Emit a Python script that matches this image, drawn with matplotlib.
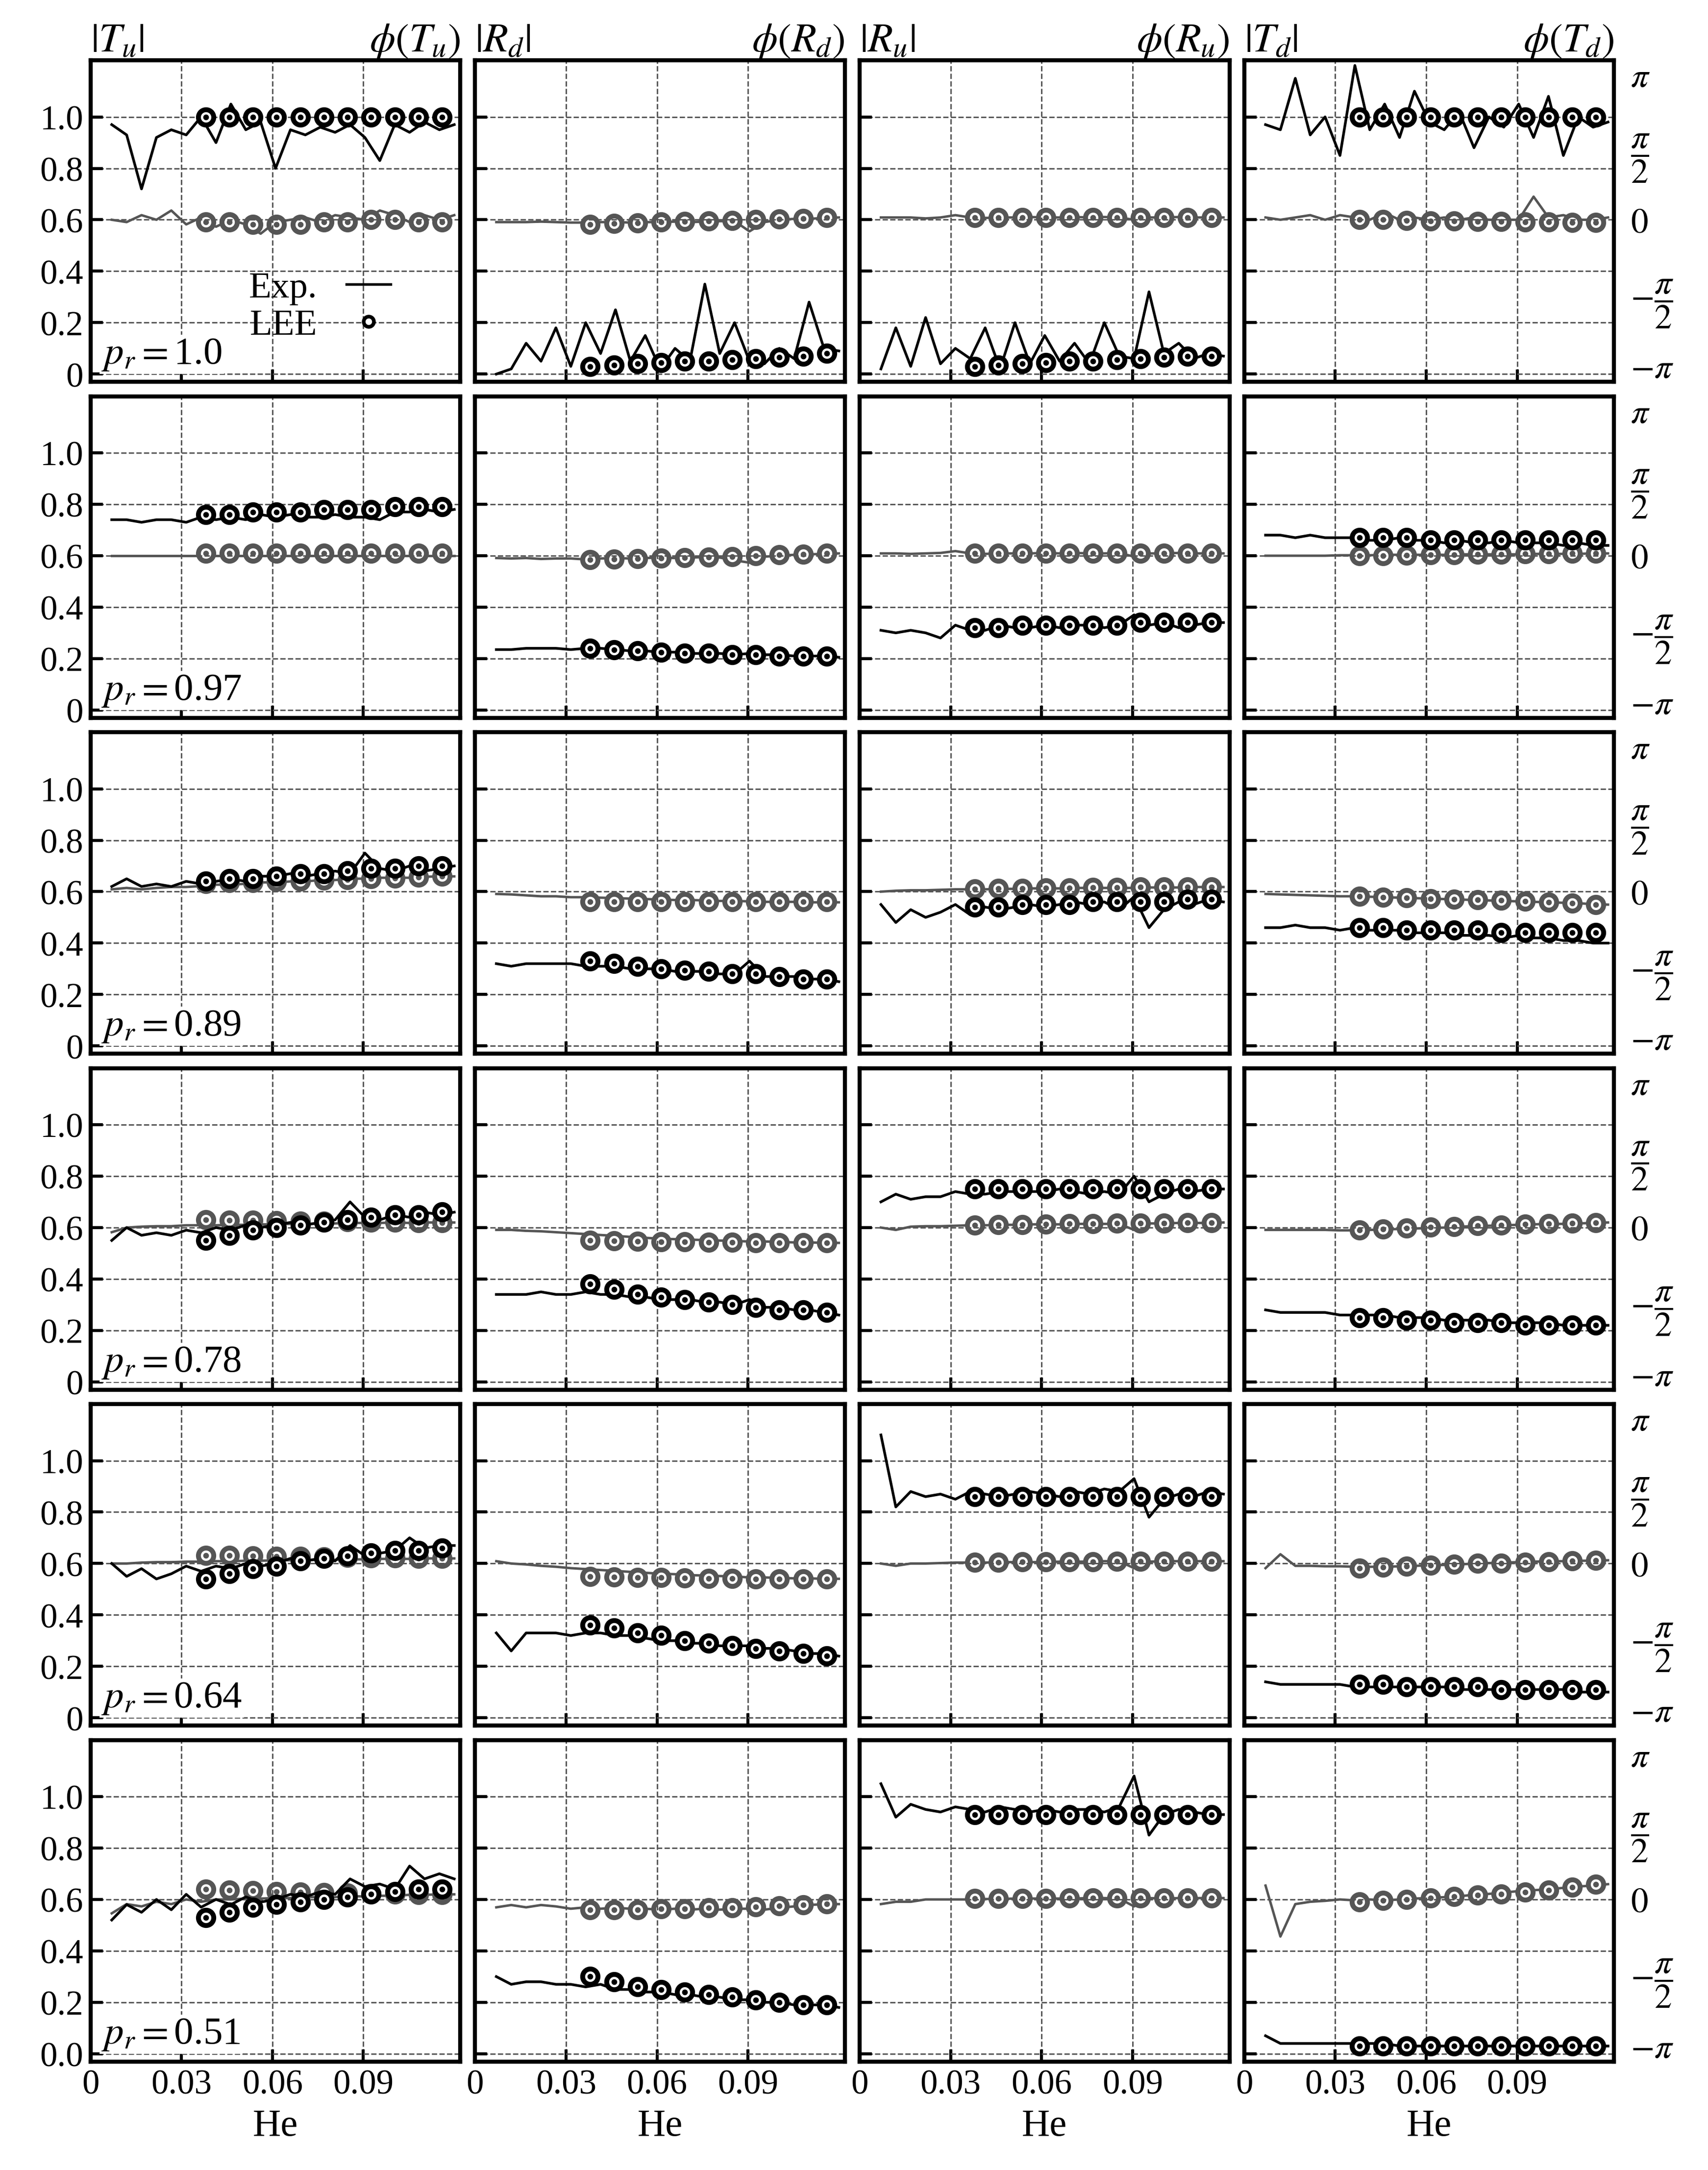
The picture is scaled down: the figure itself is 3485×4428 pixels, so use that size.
import numpy as np
import matplotlib.pyplot as plt

plt.rcParams['font.family'] = ['Liberation Serif', 'DejaVu Serif']
plt.rcParams['mathtext.fontset'] = 'stix'
plt.rcParams['font.size'] = 16

# Druckverhältnisse (Zeilen) und Größen (Spalten)
pr_labels = ['1.0', '0.97', '0.89', '0.78', '0.64', '0.51']
names = ['T_u', 'R_d', 'R_u', 'T_d']

he_exp = np.linspace(0.007, 0.12, 24)
he_lee = np.linspace(0.038, 0.116, 11)

# Betrag, Messung
Tu_mag = [
    [0.97, 0.93, 0.72, 0.92, 0.95, 0.93, 1.00, 0.90, 1.05, 0.95, 0.98, 0.80, 0.95, 0.93, 0.96, 0.94, 0.97, 0.92, 0.83, 0.97, 0.94, 0.98, 0.95, 0.97],
    [0.74, 0.74, 0.73, 0.74, 0.74, 0.73, 0.75, 0.74, 0.75, 0.74, 0.76, 0.75, 0.76, 0.75, 0.75, 0.76, 0.75, 0.75, 0.74, 0.77, 0.77, 0.78, 0.77, 0.78],
    [0.62, 0.65, 0.62, 0.63, 0.62, 0.64, 0.63, 0.64, 0.65, 0.64, 0.66, 0.66, 0.67, 0.66, 0.67, 0.68, 0.67, 0.75, 0.69, 0.68, 0.70, 0.68, 0.69, 0.70],
    [0.55, 0.60, 0.57, 0.58, 0.57, 0.59, 0.58, 0.60, 0.59, 0.61, 0.60, 0.61, 0.62, 0.61, 0.62, 0.63, 0.70, 0.64, 0.63, 0.65, 0.64, 0.66, 0.65, 0.66],
    [0.60, 0.55, 0.58, 0.54, 0.56, 0.59, 0.57, 0.59, 0.58, 0.60, 0.59, 0.60, 0.62, 0.61, 0.62, 0.61, 0.67, 0.63, 0.64, 0.65, 0.70, 0.66, 0.67, 0.67],
    [0.52, 0.58, 0.55, 0.60, 0.56, 0.62, 0.57, 0.60, 0.58, 0.61, 0.59, 0.60, 0.62, 0.61, 0.63, 0.62, 0.68, 0.65, 0.66, 0.64, 0.73, 0.68, 0.70, 0.68],
]
Rd_mag = [
    [0.00, 0.02, 0.12, 0.05, 0.18, 0.03, 0.20, 0.08, 0.25, 0.05, 0.15, 0.02, 0.10, 0.05, 0.35, 0.08, 0.20, 0.05, 0.04, 0.10, 0.06, 0.28, 0.10, 0.09],
    [0.235, 0.235, 0.24, 0.24, 0.24, 0.235, 0.24, 0.24, 0.235, 0.23, 0.23, 0.225, 0.225, 0.22, 0.22, 0.22, 0.215, 0.22, 0.215, 0.215, 0.21, 0.21, 0.21, 0.205],
    [0.32, 0.31, 0.32, 0.32, 0.32, 0.32, 0.31, 0.31, 0.31, 0.30, 0.30, 0.30, 0.29, 0.29, 0.29, 0.28, 0.28, 0.33, 0.27, 0.27, 0.27, 0.26, 0.26, 0.25],
    [0.34, 0.34, 0.34, 0.35, 0.34, 0.34, 0.35, 0.34, 0.34, 0.33, 0.33, 0.32, 0.32, 0.32, 0.31, 0.31, 0.30, 0.32, 0.29, 0.29, 0.28, 0.28, 0.27, 0.26],
    [0.33, 0.26, 0.33, 0.33, 0.33, 0.32, 0.33, 0.33, 0.32, 0.32, 0.31, 0.30, 0.30, 0.29, 0.29, 0.28, 0.28, 0.28, 0.27, 0.27, 0.26, 0.25, 0.25, 0.24],
    [0.30, 0.27, 0.28, 0.28, 0.27, 0.27, 0.26, 0.27, 0.25, 0.25, 0.24, 0.24, 0.23, 0.23, 0.22, 0.22, 0.21, 0.21, 0.20, 0.20, 0.19, 0.19, 0.19, 0.18],
]
Ru_mag = [
    [0.02, 0.18, 0.03, 0.22, 0.04, 0.10, 0.06, 0.18, 0.02, 0.20, 0.04, 0.15, 0.05, 0.12, 0.04, 0.20, 0.07, 0.06, 0.32, 0.08, 0.12, 0.06, 0.08, 0.07],
    [0.31, 0.30, 0.31, 0.30, 0.28, 0.33, 0.31, 0.31, 0.33, 0.32, 0.32, 0.33, 0.32, 0.33, 0.33, 0.32, 0.33, 0.37, 0.33, 0.34, 0.32, 0.33, 0.34, 0.34],
    [0.55, 0.48, 0.53, 0.50, 0.52, 0.55, 0.51, 0.54, 0.53, 0.54, 0.55, 0.54, 0.55, 0.56, 0.55, 0.56, 0.53, 0.58, 0.46, 0.53, 0.56, 0.55, 0.57, 0.56],
    [0.70, 0.73, 0.71, 0.72, 0.72, 0.74, 0.73, 0.73, 0.74, 0.74, 0.74, 0.74, 0.75, 0.74, 0.73, 0.74, 0.73, 0.80, 0.70, 0.73, 0.75, 0.74, 0.75, 0.75],
    [1.10, 0.82, 0.88, 0.86, 0.87, 0.85, 0.88, 0.87, 0.86, 0.87, 0.88, 0.87, 0.86, 0.88, 0.87, 0.89, 0.88, 0.93, 0.78, 0.85, 0.87, 0.86, 0.88, 0.87],
    [1.05, 0.92, 0.97, 0.95, 0.94, 0.96, 0.95, 0.94, 0.96, 0.95, 0.94, 0.95, 0.94, 0.95, 0.95, 0.94, 0.96, 1.08, 0.85, 0.93, 0.95, 0.94, 0.93, 0.93],
]
Td_mag = [
    [0.97, 0.95, 1.15, 0.93, 1.00, 0.85, 1.20, 0.95, 1.05, 0.92, 1.10, 0.98, 0.95, 1.02, 0.88, 1.00, 0.96, 1.05, 0.92, 1.08, 0.85, 1.00, 0.96, 0.98],
    [0.68, 0.68, 0.67, 0.68, 0.67, 0.67, 0.67, 0.66, 0.66, 0.67, 0.66, 0.66, 0.65, 0.66, 0.65, 0.65, 0.66, 0.65, 0.65, 0.65, 0.64, 0.65, 0.64, 0.64],
    [0.46, 0.46, 0.47, 0.46, 0.46, 0.45, 0.46, 0.45, 0.45, 0.45, 0.44, 0.44, 0.44, 0.43, 0.43, 0.43, 0.42, 0.43, 0.42, 0.42, 0.41, 0.41, 0.40, 0.40],
    [0.28, 0.27, 0.27, 0.27, 0.27, 0.26, 0.26, 0.26, 0.26, 0.25, 0.25, 0.25, 0.24, 0.24, 0.24, 0.24, 0.23, 0.23, 0.23, 0.23, 0.22, 0.22, 0.22, 0.22],
    [0.14, 0.13, 0.13, 0.13, 0.13, 0.13, 0.12, 0.12, 0.12, 0.12, 0.12, 0.12, 0.12, 0.11, 0.11, 0.11, 0.11, 0.11, 0.11, 0.11, 0.11, 0.10, 0.10, 0.10],
    [0.07, 0.04, 0.04, 0.04, 0.04, 0.04, 0.04, 0.04, 0.04, 0.03, 0.03, 0.03, 0.03, 0.03, 0.03, 0.03, 0.03, 0.03, 0.03, 0.03, 0.03, 0.03, 0.03, 0.03],
]

# Phase, Messung (rad)
Tu_ph = [
    [0.0, -0.05, 0.1, 0.0, 0.2, -0.1, 0.05, -0.15, 0.0, -0.1, -0.3, -0.05, 0.0, 0.05, -0.05, 0.1, 0.05, 0.0, 0.2, 0.1, -0.05, 0.1, 0.0, 0.1],
    [0.0] * 24,
    [0.05, 0.08, 0.05, 0.08, 0.1, 0.1, 0.12, 0.15, 0.15, 0.17, 0.2, 0.2, 0.22, 0.22, 0.25, 0.25, 0.28, 0.28, 0.3, 0.3, 0.3, 0.32, 0.33, 0.33],
    [-0.1, 0.0, 0.02, 0.03, 0.03, 0.05, 0.05, 0.05, 0.06, 0.06, 0.07, 0.07, 0.08, 0.08, 0.09, 0.09, 0.1, 0.1, 0.1, 0.11, 0.1, 0.11, 0.11, 0.11],
    [0.0, 0.0, 0.02, 0.03, 0.03, 0.04, 0.04, 0.05, 0.05, 0.06, 0.06, 0.07, 0.07, 0.07, 0.08, 0.08, 0.09, 0.09, 0.1, 0.1, 0.1, 0.11, 0.11, 0.11],
    [-0.3, -0.1, -0.15, -0.05, -0.1, 0.0, -0.05, 0.0, 0.0, 0.02, 0.02, 0.03, 0.03, 0.05, 0.05, 0.05, 0.08, 0.06, 0.08, 0.08, 0.1, 0.1, 0.11, 0.11],
]
Rd_ph = [
    [-0.05, -0.05, -0.05, -0.04, -0.05, -0.06, -0.06, -0.05, -0.05, -0.06, -0.05, -0.05, -0.04, -0.05, -0.04, -0.03, -0.03, -0.25, -0.05, 0.0, 0.02, 0.02, 0.04, 0.05],
    [-0.05, -0.06, -0.05, -0.07, -0.06, -0.06, -0.08, -0.06, -0.05, -0.06, -0.05, -0.04, -0.05, -0.04, -0.03, -0.04, -0.1, -0.15, -0.02, 0.0, 0.02, 0.03, 0.04, 0.05],
    [-0.05, -0.06, -0.08, -0.1, -0.1, -0.12, -0.12, -0.13, -0.14, -0.15, -0.16, -0.17, -0.18, -0.18, -0.19, -0.2, -0.2, -0.21, -0.22, -0.22, -0.22, -0.23, -0.23, -0.23],
    [-0.05, -0.05, -0.07, -0.08, -0.1, -0.12, -0.14, -0.16, -0.18, -0.2, -0.22, -0.24, -0.25, -0.26, -0.27, -0.28, -0.29, -0.3, -0.3, -0.31, -0.32, -0.32, -0.33, -0.33],
    [0.05, 0.0, -0.02, -0.05, -0.07, -0.1, -0.12, -0.14, -0.16, -0.18, -0.2, -0.22, -0.23, -0.25, -0.26, -0.27, -0.28, -0.3, -0.3, -0.31, -0.32, -0.32, -0.33, -0.33],
    [-0.17, -0.12, -0.17, -0.12, -0.15, -0.2, -0.17, -0.2, -0.18, -0.2, -0.2, -0.22, -0.2, -0.22, -0.2, -0.22, -0.2, -0.2, -0.22, -0.18, -0.15, -0.12, -0.1, -0.1],
]
Ru_ph = [
    [0.05, 0.05, 0.05, 0.03, 0.05, 0.1, 0.05, 0.04, 0.05, 0.05, 0.06, 0.05, 0.05, 0.06, 0.05, 0.06, 0.05, 0.0, 0.05, 0.05, 0.06, 0.05, 0.05, 0.05],
    [0.05, 0.05, 0.04, 0.05, 0.06, 0.1, 0.05, 0.04, 0.05, 0.05, 0.05, 0.06, 0.05, 0.06, 0.05, 0.05, 0.06, -0.02, 0.05, 0.05, 0.06, 0.05, 0.05, 0.05],
    [0.0, 0.02, 0.03, 0.03, 0.04, 0.05, 0.05, 0.05, 0.06, 0.06, 0.07, 0.07, 0.07, 0.08, 0.08, 0.08, 0.08, 0.08, 0.09, 0.09, 0.09, 0.1, 0.1, 0.1],
    [0.0, -0.05, 0.02, 0.03, 0.03, 0.04, 0.05, 0.05, 0.06, 0.06, 0.07, 0.07, 0.07, 0.08, 0.08, 0.08, 0.08, -0.05, 0.09, 0.09, 0.1, 0.1, 0.1, 0.11],
    [0.0, -0.05, 0.0, 0.0, 0.01, 0.02, 0.02, 0.02, 0.03, 0.03, 0.03, 0.03, 0.04, 0.04, 0.04, 0.05, 0.05, -0.1, 0.04, 0.05, 0.05, 0.05, 0.05, 0.05],
    [-0.1, -0.05, -0.05, 0.0, 0.0, 0.0, 0.0, 0.01, 0.01, 0.02, 0.02, 0.02, 0.02, 0.02, 0.03, 0.03, 0.02, -0.15, 0.03, 0.02, 0.03, 0.03, 0.03, 0.03],
]
Td_ph = [
    [0.05, 0.0, 0.05, 0.1, 0.0, 0.1, 0.05, 0.0, 0.15, 0.0, 0.05, 0.0, 0.05, 0.0, 0.05, 0.0, 0.0, 0.0, 0.5, 0.05, 0.1, 0.0, 0.0, 0.05],
    [0.0, 0.0, 0.0, 0.0, 0.0, 0.01, 0.01, 0.01, 0.02, 0.02, 0.02, 0.02, 0.02, 0.03, 0.03, 0.03, 0.03, 0.03, 0.04, 0.04, 0.04, 0.04, 0.05, 0.05],
    [-0.05, -0.06, -0.07, -0.08, -0.09, -0.1, -0.1, -0.11, -0.12, -0.13, -0.14, -0.15, -0.16, -0.17, -0.18, -0.19, -0.2, -0.21, -0.22, -0.23, -0.24, -0.25, -0.27, -0.28],
    [-0.05, -0.05, -0.05, -0.05, -0.05, -0.06, -0.06, -0.05, -0.04, -0.03, -0.02, -0.01, 0.0, 0.02, 0.03, 0.04, 0.05, 0.06, 0.07, 0.08, 0.08, 0.09, 0.1, 0.11],
    [-0.1, 0.2, -0.05, -0.05, -0.06, -0.06, -0.07, -0.07, -0.07, -0.06, -0.05, -0.04, -0.03, -0.02, 0.0, 0.01, 0.02, 0.03, 0.04, 0.05, 0.05, 0.06, 0.06, 0.07],
    [0.3, -0.8, -0.1, -0.05, -0.03, 0.0, -0.02, 0.0, -0.02, 0.0, 0.02, 0.03, 0.05, 0.07, 0.1, 0.12, 0.15, 0.18, 0.2, 0.22, 0.25, 0.28, 0.3, 0.33],
]

# Betrag, LEE
Tu_lee_mag = [
    [1.0, 1.0, 1.0, 1.0, 1.0, 1.0, 1.0, 1.0, 1.0, 1.0, 1.0],
    [0.76, 0.76, 0.77, 0.77, 0.77, 0.78, 0.78, 0.78, 0.79, 0.79, 0.79],
    [0.64, 0.65, 0.65, 0.66, 0.67, 0.67, 0.68, 0.69, 0.69, 0.70, 0.70],
    [0.55, 0.57, 0.59, 0.60, 0.61, 0.62, 0.63, 0.64, 0.65, 0.65, 0.66],
    [0.54, 0.56, 0.58, 0.59, 0.61, 0.62, 0.63, 0.64, 0.65, 0.65, 0.66],
    [0.53, 0.55, 0.57, 0.58, 0.59, 0.60, 0.61, 0.62, 0.63, 0.64, 0.64],
]
Rd_lee_mag = [
    [0.03, 0.035, 0.04, 0.045, 0.05, 0.05, 0.055, 0.06, 0.065, 0.07, 0.08],
    [0.24, 0.235, 0.23, 0.225, 0.22, 0.22, 0.215, 0.215, 0.21, 0.21, 0.21],
    [0.33, 0.32, 0.31, 0.30, 0.295, 0.29, 0.28, 0.28, 0.27, 0.26, 0.26],
    [0.38, 0.36, 0.34, 0.33, 0.32, 0.31, 0.30, 0.29, 0.28, 0.28, 0.27],
    [0.36, 0.35, 0.33, 0.32, 0.30, 0.29, 0.28, 0.27, 0.26, 0.25, 0.24],
    [0.30, 0.28, 0.26, 0.25, 0.24, 0.23, 0.22, 0.21, 0.20, 0.19, 0.19],
]
Ru_lee_mag = [
    [0.03, 0.035, 0.04, 0.045, 0.05, 0.05, 0.055, 0.06, 0.065, 0.07, 0.07],
    [0.32, 0.32, 0.33, 0.33, 0.33, 0.33, 0.33, 0.34, 0.34, 0.34, 0.34],
    [0.54, 0.54, 0.55, 0.55, 0.55, 0.56, 0.56, 0.56, 0.56, 0.57, 0.57],
    [0.75, 0.75, 0.75, 0.75, 0.75, 0.75, 0.75, 0.75, 0.75, 0.75, 0.75],
    [0.86, 0.86, 0.86, 0.86, 0.86, 0.86, 0.86, 0.86, 0.86, 0.86, 0.86],
    [0.93, 0.93, 0.93, 0.93, 0.93, 0.93, 0.93, 0.93, 0.93, 0.93, 0.93],
]
Td_lee_mag = [
    [1.0, 1.0, 1.0, 1.0, 1.0, 1.0, 1.0, 1.0, 1.0, 1.0, 1.0],
    [0.67, 0.67, 0.67, 0.66, 0.66, 0.66, 0.66, 0.66, 0.66, 0.66, 0.66],
    [0.46, 0.46, 0.45, 0.45, 0.45, 0.45, 0.44, 0.44, 0.44, 0.44, 0.44],
    [0.25, 0.25, 0.24, 0.24, 0.23, 0.23, 0.23, 0.22, 0.22, 0.22, 0.22],
    [0.13, 0.13, 0.12, 0.12, 0.12, 0.12, 0.11, 0.11, 0.11, 0.11, 0.11],
    [0.03, 0.03, 0.03, 0.03, 0.03, 0.03, 0.03, 0.03, 0.03, 0.03, 0.03],
]

# Phase, LEE (rad)
Tu_lee_ph = [
    [-0.05, -0.05, -0.1, -0.1, -0.1, -0.05, -0.05, 0.0, 0.0, -0.05, -0.05],
    [0.05] * 11,
    [0.17, 0.19, 0.2, 0.22, 0.23, 0.25, 0.26, 0.28, 0.29, 0.31, 0.33],
    [0.17, 0.16, 0.16, 0.15, 0.14, 0.14, 0.13, 0.12, 0.12, 0.11, 0.11],
    [0.17, 0.17, 0.16, 0.15, 0.15, 0.14, 0.13, 0.12, 0.12, 0.11, 0.11],
    [0.22, 0.2, 0.19, 0.17, 0.16, 0.15, 0.14, 0.13, 0.12, 0.11, 0.11],
]
Rd_lee_ph = [
    [-0.1, -0.08, -0.07, -0.05, -0.04, -0.03, -0.02, 0.0, 0.02, 0.03, 0.05],
    [-0.08, -0.07, -0.06, -0.05, -0.04, -0.03, -0.02, 0.0, 0.02, 0.03, 0.05],
    [-0.22] * 11,
    [-0.28, -0.29, -0.3, -0.31, -0.31, -0.32, -0.32, -0.33, -0.33, -0.33, -0.33],
    [-0.28, -0.29, -0.3, -0.3, -0.31, -0.32, -0.32, -0.33, -0.33, -0.33, -0.33],
    [-0.22, -0.22, -0.22, -0.2, -0.2, -0.18, -0.18, -0.16, -0.14, -0.12, -0.1],
]
Ru_lee_ph = [
    [0.05] * 11,
    [0.05] * 11,
    [0.06, 0.07, 0.07, 0.08, 0.08, 0.09, 0.09, 0.1, 0.1, 0.1, 0.1],
    [0.05, 0.06, 0.06, 0.07, 0.08, 0.08, 0.09, 0.1, 0.1, 0.11, 0.11],
    [0.03, 0.03, 0.04, 0.04, 0.04, 0.04, 0.05, 0.05, 0.05, 0.05, 0.05],
    [0.02, 0.02, 0.02, 0.02, 0.03, 0.03, 0.03, 0.03, 0.03, 0.03, 0.03],
]
Td_lee_ph = [
    [0.0, 0.0, -0.02, -0.03, -0.03, -0.04, -0.04, -0.05, -0.05, -0.06, -0.06],
    [0.0, 0.0, 0.01, 0.02, 0.02, 0.03, 0.03, 0.04, 0.04, 0.05, 0.05],
    [-0.1, -0.12, -0.13, -0.15, -0.16, -0.18, -0.19, -0.21, -0.23, -0.25, -0.28],
    [-0.05, -0.03, -0.01, 0.01, 0.02, 0.04, 0.05, 0.07, 0.08, 0.1, 0.11],
    [-0.1, -0.08, -0.06, -0.04, -0.02, 0.0, 0.01, 0.03, 0.04, 0.06, 0.07],
    [-0.05, -0.02, 0.0, 0.03, 0.06, 0.09, 0.12, 0.16, 0.2, 0.26, 0.33],
]

mag_exp = [Tu_mag, Rd_mag, Ru_mag, Td_mag]
ph_exp = [Tu_ph, Rd_ph, Ru_ph, Td_ph]
mag_lee = [Tu_lee_mag, Rd_lee_mag, Ru_lee_mag, Td_lee_mag]
ph_lee = [Tu_lee_ph, Rd_lee_ph, Ru_lee_ph, Td_lee_ph]

# Achsen: Betrag links, Phase rechts (0 liegt auf 0.6)
ylo, yhi = -0.03, 1.22
s = 0.566 / np.pi
phlo, phhi = (ylo - 0.6) / s, (yhi - 0.6) / s
gray = '#555555'

fig, axes = plt.subplots(6, 4, figsize=(11.617, 14.763), dpi=300)
fig.subplots_adjust(left=0.053, right=0.945, top=0.972, bottom=0.05, wspace=0.04, hspace=0.045)

for r in range(6):
    for c in range(4):
        ax = axes[r, c]
        ax2 = ax.twinx()
        ax.set_zorder(ax2.get_zorder() + 1)
        ax.patch.set_visible(False)

        ax2.plot(he_exp, ph_exp[c][r], color=gray, lw=1.2)
        ax2.plot(he_lee, ph_lee[c][r], 'o', ms=7.5, mfc='white', mec=gray, mew=2.4)
        ax2.plot(he_lee, ph_lee[c][r], 'o', ms=1.8, color=gray)
        ax.plot(he_exp, mag_exp[c][r], color='black', lw=1.3)
        ax.plot(he_lee, mag_lee[c][r], 'o', ms=7.5, mfc='white', mec='black', mew=2.4)
        ax.plot(he_lee, mag_lee[c][r], 'o', ms=1.8, color='black')

        ax.set_xlim(0, 0.122)
        ax.set_ylim(ylo, yhi)
        ax2.set_ylim(phlo, phhi)
        ax.set_xticks([0, 0.03, 0.06, 0.09])
        ax.set_yticks([0, 0.2, 0.4, 0.6, 0.8, 1.0])
        ax.grid(True, ls='--', color='#555555', lw=0.7)
        ax.tick_params(direction='in', length=6, width=1.5, labelsize=17)
        for sp in ax.spines.values():
            sp.set_linewidth(2)
        for sp in ax2.spines.values():
            sp.set_visible(False)

        ax2.set_yticks([-np.pi, -np.pi / 2, 0, np.pi / 2, np.pi])
        ax2.tick_params(length=0, labelsize=17, pad=8)
        if c == 3:
            ax2.set_yticklabels([r'$-\pi$', r'$-\dfrac{\pi}{2}$', '$0$', r'$\dfrac{\pi}{2}$', r'$\pi$'])
        else:
            ax2.set_yticklabels([])

        if c == 0:
            first = '0.0' if r == 5 else '0'
            ax.set_yticklabels([first, '0.2', '0.4', '0.6', '0.8', '1.0'])
            ax.text(0.03, 0.03, '$p_r = $' + pr_labels[r], transform=ax.transAxes,
                    fontsize=19, va='bottom', ha='left',
                    bbox=dict(facecolor='white', edgecolor='none', pad=1))
        else:
            ax.set_yticklabels([])
        if r == 5:
            ax.set_xticklabels(['0', '0.03', '0.06', '0.09'])
            ax.set_xlabel('He', fontsize=19)
        else:
            ax.set_xticklabels([])
        if r == 0:
            ax.set_title('$|%s|$' % names[c], loc='left', fontsize=20, pad=4)
            ax.set_title(r'$\phi(%s)$' % names[c], loc='right', fontsize=20, pad=4)

# Legende im ersten Feld
ax = axes[0, 0]
ax.plot([], [], color='black', lw=1.3, label='Exp.')
ax.plot([], [], 'o', ms=5, mfc='white', mec='black', mew=1.8, label='LEE')
ax.legend(loc='lower center', bbox_to_anchor=(0.62, 0.02), frameon=False, markerfirst=False,
          fontsize=18, handlelength=1.2, handletextpad=0.8, labelspacing=0.1)

plt.savefig('out.png')
